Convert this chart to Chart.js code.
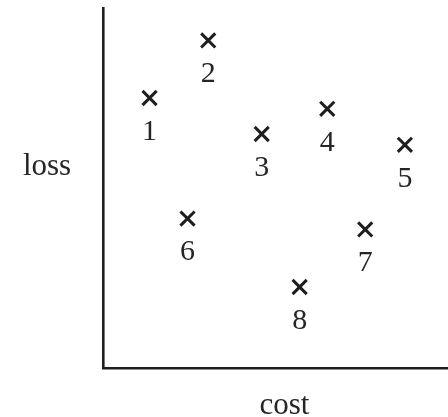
<!DOCTYPE html>
<html>
<head>
<meta charset="utf-8">
<script src="https://cdn.jsdelivr.net/npm/chart.js@4/dist/chart.umd.min.js"></script>
<style>
  html, body { margin: 0; padding: 0; background: #fff; }
  canvas { display: block; }
</style>
</head>
<body>
<canvas id="lossChart" width="448" height="417"></canvas>
<script>
// points: cost on x, loss on y
var pointLabels = ["1", "2", "3", "4", "5", "6", "7", "8"];
var costValues = [1.35, 3.05, 4.6, 6.5, 8.75, 2.45, 7.6, 5.7];
var lossValues = [7.5, 9.1, 6.5, 7.2, 6.2, 4.15, 3.85, 2.25];
var xTitle = "cost";
var yTitle = "loss";

var ink = "#1e1e1e";
var textInk = "#262626";
var serif = "'Liberation Serif', 'Times New Roman', serif";

var points = [];
for (var i = 0; i < costValues.length; i++) {
    points.push({ x: costValues[i], y: lossValues[i] });
}

// number under each cross + the two axis names
var labelPlugin = {
    id: "labelPlugin",
    afterDatasetsDraw: function (chart) {
        var ctx = chart.ctx;
        var area = chart.chartArea;
        var meta = chart.getDatasetMeta(0);
        ctx.save();
        ctx.fillStyle = textInk;
        ctx.font = "30px " + serif;
        ctx.textAlign = "center";
        ctx.textBaseline = "middle";
        meta.data.forEach(function (pt, idx) {
            ctx.fillText(pointLabels[idx], pt.x, pt.y + 34);
        });
        ctx.font = "31px " + serif;
        ctx.fillText(xTitle, (area.left + area.right) / 2 + 9, area.bottom + 38);
        ctx.fillText(yTitle, area.left - 56, (area.top + area.bottom) / 2 - 21);
        ctx.restore();
    }
};

var ctxLoss = document.getElementById("lossChart").getContext("2d");
var lossChart = new Chart(ctxLoss, {
    type: "scatter",
    data: {
        datasets: [{
            data: points,
            pointStyle: "crossRot",
            pointRadius: 10,
            pointHoverRadius: 10,
            borderWidth: 3,
            borderColor: ink,
            backgroundColor: ink,
            clip: false
        }]
    },
    options: {
        responsive: false,
        animation: false,
        layout: { autoPadding: false, padding: { left: 103, top: 8, right: 0, bottom: 49 } },
        plugins: {
            legend: { display: false },
            tooltip: { enabled: false }
        },
        scales: {
            x: {
                min: 0,
                max: 10,
                grid: { display: false, drawTicks: false, tickLength: 0 },
                ticks: { display: false, padding: 0 },
                border: { display: true, color: ink, width: 2.6 }
            },
            y: {
                min: 0,
                max: 10,
                grid: { display: false, drawTicks: false, tickLength: 0 },
                ticks: { display: false, padding: 0 },
                border: { display: true, color: ink, width: 2.6 }
            }
        }
    },
    plugins: [labelPlugin]
});
</script>
</body>
</html>
